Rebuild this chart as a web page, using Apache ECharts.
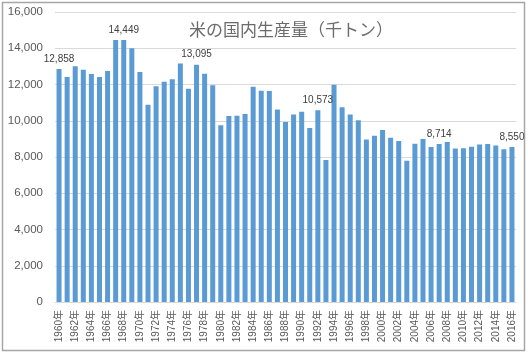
<!DOCTYPE html>
<html><head><meta charset="utf-8">
<script src="https://cdn.jsdelivr.net/npm/echarts@6/dist/echarts.min.js"></script>
<style>html,body{margin:0;padding:0;background:#fff}#c{width:528px;height:355px}</style>
</head><body><div id="c"></div>
<script>
const years = [];
for (let y = 1960; y <= 2016; y++) years.push(y + '年');
const production = [
  12858, 12419, 13009, 12812, 12584, 12409, 12745, 14453, 14449, 14003,
  12689, 10887, 11897, 12149, 12292, 13165, 11772, 13095, 12589, 11958,
  9751, 10259, 10270, 10366, 11878, 11662, 11647, 10627, 9935, 10347,
  10499, 9604, 10573, 7834, 11981, 10748, 10344, 10025, 8960, 9175,
  9490, 9057, 8889, 7792, 8730, 8998, 8556, 8714, 8823, 8474,
  8483, 8566, 8692, 8718, 8628, 8429, 8550
];
const labeledYears = ['1960年', '1968年', '1977年', '1992年', '2007年', '2016年'];
const titleText = '米の国内生産量（千トン）';

const fontFam = '"Liberation Sans", "Noto Sans CJK JP", sans-serif';
const chart = echarts.init(document.getElementById('c'), null, {renderer: 'canvas'});
chart.setOption({
  animation: false,
  title: {
    text: titleText, left: 286, top: 16, textAlign: 'center',
    textStyle: {fontFamily: '"Noto Sans CJK JP", sans-serif', fontSize: 17, fontWeight: 'normal', color: '#6b6b6b'}
  },
  graphic: [{
    type: 'rect', shape: {x: 2.5, y: 2.5, width: 522, height: 348},
    style: {fill: 'none', stroke: '#a6a6a6', lineWidth: 1.5}, silent: true, z: -1
  }],
  grid: {left: 55, right: 12, top: 12, bottom: 53},
  xAxis: {
    type: 'category', data: years,
    axisLine: {show: true, lineStyle: {color: '#d9d9d9'}},
    axisTick: {show: false},
    axisLabel: {rotate: 90, interval: 1, fontSize: 10, color: '#595959', fontFamily: fontFam, margin: 8}
  },
  yAxis: {
    type: 'value', min: 0, max: 16000, interval: 2000,
    axisLine: {show: false}, axisTick: {show: false},
    splitLine: {lineStyle: {color: '#d9d9d9'}},
    axisLabel: {fontSize: 11.5, color: '#595959', fontFamily: fontFam, margin: 12,
      formatter: v => v.toLocaleString('en-US')}
  },
  series: [{
    type: 'bar', data: production, barCategoryGap: '38%',
    itemStyle: {color: '#5b9bd5'},
    label: {
      show: true, position: 'top', distance: 5, fontSize: 10, color: '#404040', fontFamily: fontFam,
      formatter: p => labeledYears.includes(p.name) ? p.value.toLocaleString('en-US') : ''
    }
  }]
});
</script></body></html>
